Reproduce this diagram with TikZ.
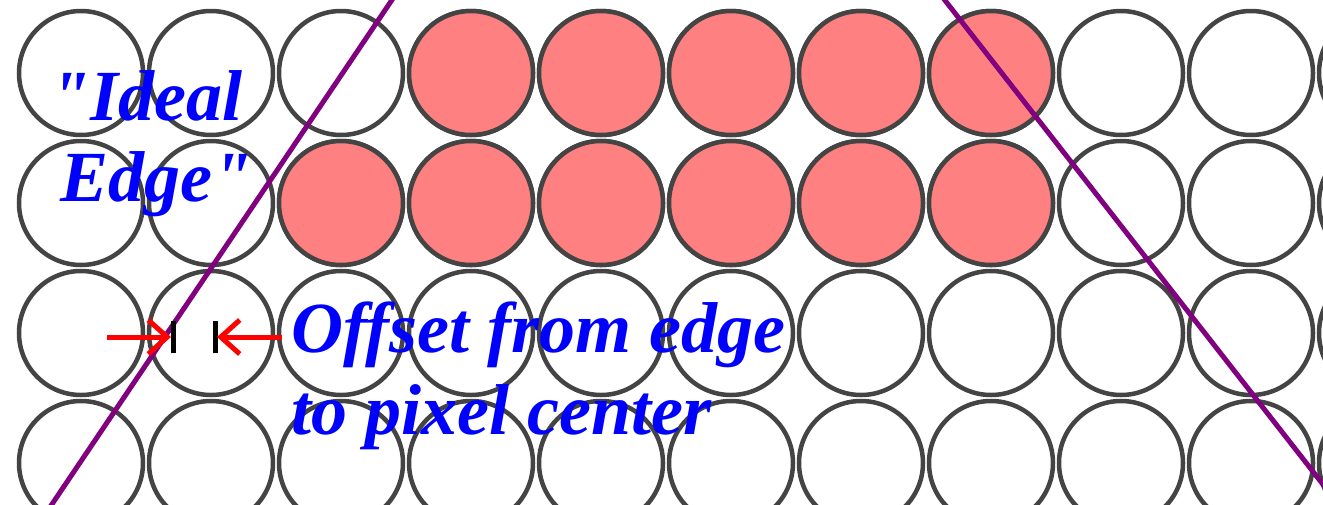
\documentclass[tikz,border=0pt]{standalone}
\usepackage{fontspec}
\setmainfont{Liberation Serif}[Ligatures=TeXOff]
\usetikzlibrary{arrows.meta}
\definecolor{contorno}{HTML}{444444}
\definecolor{rosa}{HTML}{FF8080}
\definecolor{roxo}{HTML}{800080}
\definecolor{azul}{HTML}{0000FF}
\definecolor{vermelho}{HTML}{FF0000}

\begin{document}
\begin{tikzpicture}[x=1pt,y=-1pt,
    pixel/.style={draw=contorno, line width=4.5pt, fill=#1},
    borda/.style={roxo, line width=5pt},
    seta/.style={-{Straight Barb[length=19pt,width=34pt]}, line width=5pt, vermelho},
    marca/.style={line width=5pt, black},
    rotulo/.style={azul, font=\fontsize{72}{82}\selectfont\bfseries\itshape, inner sep=0pt}]
  \useasboundingbox (0,0) rectangle (1323,504);
  \clip (0,0) rectangle (1323,504);
  \fill[white] (0,0) rectangle (1323,504);
  \foreach \i in {0,...,10}
    \foreach \j in {0,...,3}
      \draw[pixel=white] (81+130*\i,73+130*\j) circle[radius=62];
  \foreach \i in {3,...,7}
    \draw[pixel=rosa] (81+130*\i,73) circle[radius=62];
  \foreach \i in {2,...,7}
    \draw[pixel=rosa] (81+130*\i,203) circle[radius=62];
  \coordinate (topoA) at (402,-15);
  \coordinate (baseA) at (42,519);
  \coordinate (topoB) at (933,-15);
  \coordinate (baseB) at (1350,519);
  \draw[borda] (topoA) -- (baseA);
  \draw[borda] (topoB) -- (baseB);
  \coordinate (marcaE) at (173,337);
  \coordinate (marcaD) at (215,337);
  \coordinate (caudaE) at (107,337);
  \coordinate (caudaD) at (282,337);
  \draw[marca] ([yshift=-16pt]marcaE) -- ([yshift=16pt]marcaE);
  \draw[marca] ([yshift=-16pt]marcaD) -- ([yshift=16pt]marcaD);
  \draw[seta] (caudaE) -- ([xshift=-2pt]marcaE);
  \draw[seta] (caudaD) -- ([xshift=2pt]marcaD);
  \node[rotulo, anchor=base west] (ideal) at (50,120) {"Ideal};
  \node[rotulo, anchor=base west] (edge) at (60,201) {Edge"};
  \node[rotulo, align=left, anchor=north west] (offset) at (291,302) {Offset from edge\\to pixel center};
\end{tikzpicture}
\end{document}
